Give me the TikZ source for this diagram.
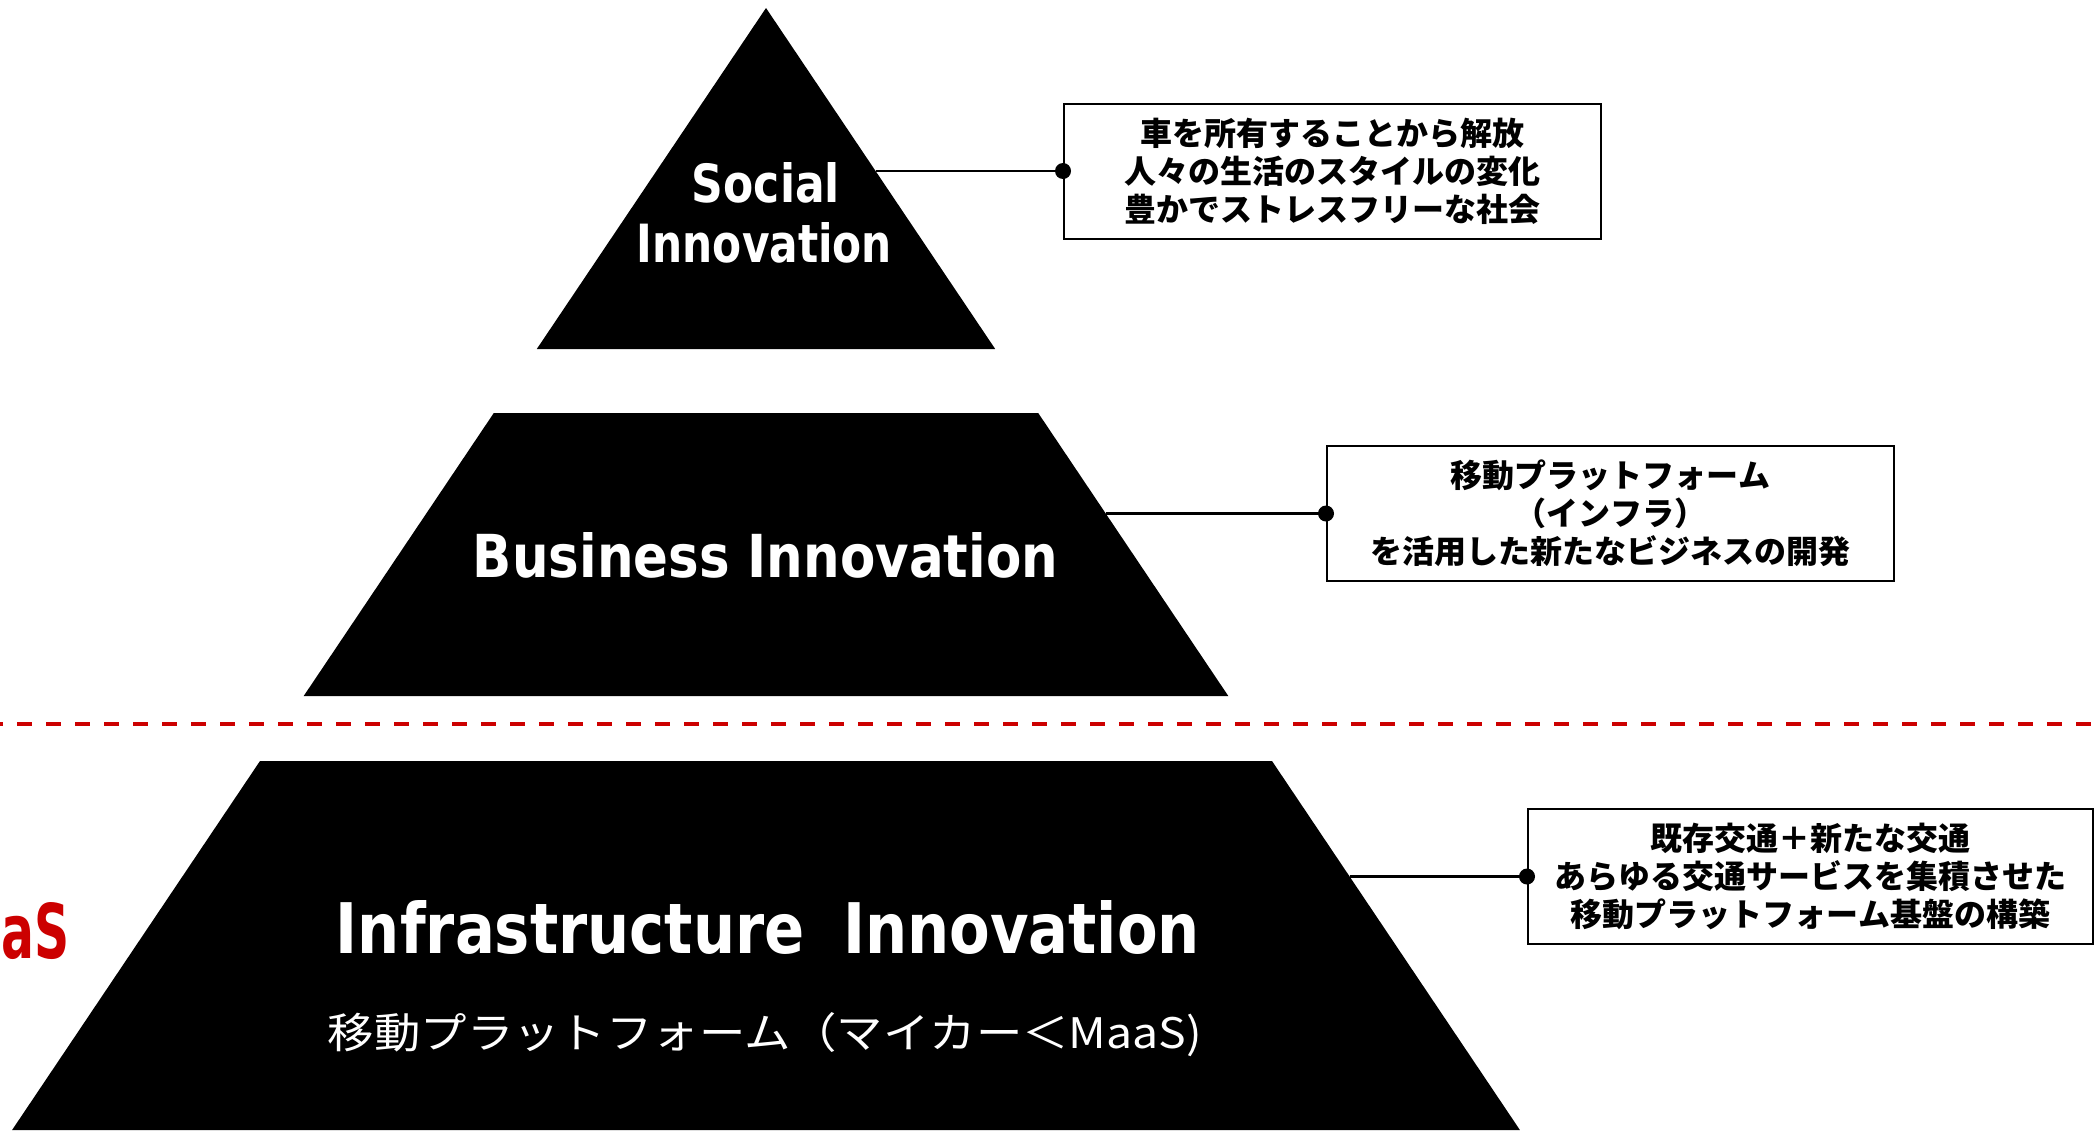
\documentclass[tikz,border=0pt]{standalone}
\usepackage{graphicx}
\usepackage{fontspec}
\newfontfamily\jpfont{Noto Sans CJK JP}
\newfontfamily\latfont{DejaVu Sans}
\definecolor{maasred}{RGB}{204,0,0}
\usetikzlibrary{calc}
\tikzset{
  pyr/.style={fill=black},
  ptext/.style={text=white, inner sep=0pt, font=\latfont\bfseries},
  jtext/.style={text=white, inner sep=0pt, font=\jpfont},
  infobox/.style={draw=black, line width=2pt, fill=white, inner sep=0pt, align=center,
    font=\jpfont\bfseries\fontsize{32pt}{38pt}\selectfont},
  link/.style={draw=black, line width=2.5pt},
  linkdot/.style={fill=black},
  redline/.style={draw=maasred, line width=4pt, dash pattern=on 15pt off 14pt, dash phase=12pt}
}
\begin{document}
\begin{tikzpicture}[x=1pt,y=-1pt]
\useasboundingbox (0,0) rectangle (2096,1130);
\clip (0,0) rectangle (2096,1130);
\fill[white] (0,0) rectangle (2096,1130);

% pyramid corner coordinates (apex 766,8 ; slope 0.672)
\coordinate (apex) at (766,8);
\coordinate (t1l) at (536.8,349); \coordinate (t1r) at (995.2,349);
\coordinate (t2a) at (493.8,413); \coordinate (t2b) at (1038.2,413);
\coordinate (t2c) at (1228.3,696); \coordinate (t2d) at (303.7,696);
\coordinate (t3a) at (260,761); \coordinate (t3b) at (1272,761);
\coordinate (t3c) at (1519.9,1130); \coordinate (t3d) at (12.1,1130);

\fill[pyr] (apex) -- (t1r) -- (t1l) -- cycle;
\fill[pyr] (t2a) -- (t2b) -- (t2c) -- (t2d) -- cycle;
\fill[pyr] (t3a) -- (t3b) -- (t3c) -- (t3d) -- cycle;

% red dashed separator
\coordinate (sepl) at (0,724);
\coordinate (sepr) at (2096,724);
\draw[redline] (sepl) -- (sepr);

% red MaaS fragment
\node[anchor=base east, text=maasred, inner sep=0pt, font=\latfont\bfseries] (maas) at (70,958) {\resizebox{68pt}{56pt}{aS}};

% pyramid texts
\node[ptext, anchor=base] (soc1) at (766,202) {\resizebox{148pt}{40pt}{Social}};
\node[ptext, anchor=base] (soc2) at (764.5,262) {\resizebox{255pt}{40pt}{Innovation}};
\node[ptext, anchor=base] (bus) at (765.5,577) {\resizebox{585pt}{45pt}{Business Innovation}};
\node[ptext, anchor=base] (inf) at (768,953) {\resizebox{864pt}{53pt}{Infrastructure\hspace{0.3em} Innovation}};
\node[jtext, anchor=base] (infsub) at (765,1048) {\resizebox{874pt}{36pt}{移動プラットフォーム（マイカー＜MaaS)}};

% info boxes
\node[infobox, minimum width=537pt, minimum height=135pt] (box1) at (1332.5,171) {車を所有することから解放\\人々の生活のスタイルの変化\\豊かでストレスフリーな社会};
\node[infobox, minimum width=567pt, minimum height=135pt] (box2) at (1610.5,513.5) {移動プラットフォーム\\（インフラ）\\を活用した新たなビジネスの開発};
\node[infobox, minimum width=565pt, minimum height=135pt] (box3) at (1810.5,876.5) {既存交通＋新たな交通\\あらゆる交通サービスを集積させた\\移動プラットフォーム基盤の構築};

% connector start points on the pyramid's right edge
\coordinate (e1) at (875.5,171);
\coordinate (e2) at (1105.7,513.5);
\coordinate (e3) at (1349.6,876.5);

\draw[link] (e1) -- (box1.west);
\draw[link] (e2) -- (box2.west);
\draw[link] (e3) -- (box3.west);
\fill[linkdot] (box1.west) circle[radius=8pt];
\fill[linkdot] (box2.west) circle[radius=8pt];
\fill[linkdot] (box3.west) circle[radius=8pt];
\end{tikzpicture}
\end{document}
